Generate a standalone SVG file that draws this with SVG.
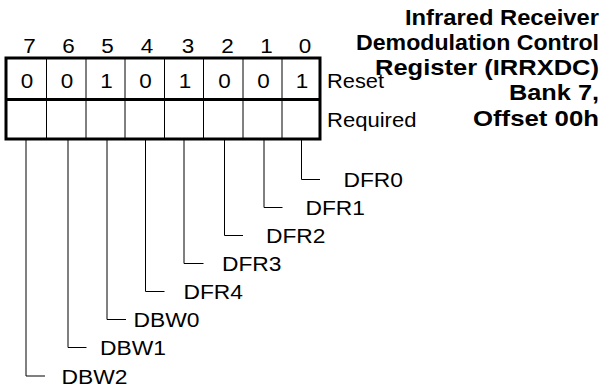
<svg xmlns="http://www.w3.org/2000/svg" width="603" height="389" viewBox="0 0 603 389">
<style>
.t{font-family:"Liberation Sans",Arial,sans-serif;font-size:20.5px;fill:#000}
.d{font-family:"Liberation Sans",Arial,sans-serif;font-size:20.5px;fill:#000;text-anchor:middle}
.b{font-family:"Liberation Sans",Arial,sans-serif;font-size:21.5px;font-weight:bold;fill:#000;text-anchor:end}
.thin{stroke:#000;stroke-width:1;fill:none}
.thick{stroke:#000;stroke-width:3;fill:none}
.lead{stroke:#000;stroke-width:1;fill:none}
</style>
<g id="title">
<text class="b" x="599" y="25" textLength="194" lengthAdjust="spacingAndGlyphs">Infrared Receiver</text>
<text class="b" x="599" y="50" textLength="243" lengthAdjust="spacingAndGlyphs">Demodulation Control</text>
<text class="b" x="599" y="75" textLength="224" lengthAdjust="spacingAndGlyphs">Register (IRRXDC)</text>
<text class="b" x="599" y="100" textLength="90" lengthAdjust="spacingAndGlyphs">Bank 7,</text>
<text class="b" x="599" y="126" textLength="126" lengthAdjust="spacingAndGlyphs">Offset 00h</text>
</g>
<g id="register">
<g id="bit-numbers">
<text class="d" x="29.5" y="53" textLength="12.5" lengthAdjust="spacingAndGlyphs">7</text>
<text class="d" x="68.5" y="53" textLength="12.5" lengthAdjust="spacingAndGlyphs">6</text>
<text class="d" x="107.5" y="53" textLength="12.5" lengthAdjust="spacingAndGlyphs">5</text>
<text class="d" x="147" y="53" textLength="12.5" lengthAdjust="spacingAndGlyphs">4</text>
<text class="d" x="188" y="53" textLength="12.5" lengthAdjust="spacingAndGlyphs">3</text>
<text class="d" x="227.5" y="53" textLength="12.5" lengthAdjust="spacingAndGlyphs">2</text>
<text class="d" x="266.5" y="53" textLength="12.5" lengthAdjust="spacingAndGlyphs">1</text>
<text class="d" x="305" y="53" textLength="12.5" lengthAdjust="spacingAndGlyphs">0</text>
</g>
<path class="thin" d="M46.5,58V139M86,58V139M125,58V139M164.5,58V139M203.5,58V139M243,58V139M282,58V139"/>
<rect class="thick" x="6" y="58" width="314" height="81"/>
<path class="thick" d="M6,99.5H320"/>
<g id="reset-values">
<text class="d" x="27" y="87.5" textLength="12.5" lengthAdjust="spacingAndGlyphs">0</text>
<text class="d" x="67" y="87.5" textLength="12.5" lengthAdjust="spacingAndGlyphs">0</text>
<text class="d" x="106.5" y="87.5" textLength="12.5" lengthAdjust="spacingAndGlyphs">1</text>
<text class="d" x="145.5" y="87.5" textLength="12.5" lengthAdjust="spacingAndGlyphs">0</text>
<text class="d" x="185" y="87.5" textLength="12.5" lengthAdjust="spacingAndGlyphs">1</text>
<text class="d" x="224.5" y="87.5" textLength="12.5" lengthAdjust="spacingAndGlyphs">0</text>
<text class="d" x="263.5" y="87.5" textLength="12.5" lengthAdjust="spacingAndGlyphs">0</text>
<text class="d" x="302" y="87.5" textLength="12.5" lengthAdjust="spacingAndGlyphs">1</text>
</g>
<text class="t" x="327" y="88" textLength="57" lengthAdjust="spacingAndGlyphs">Reset</text>
<text class="t" x="327" y="127" textLength="89.5" lengthAdjust="spacingAndGlyphs">Required</text>
</g>
<g id="connectors">
<path class="lead" d="M301.5,140V179.5H320"/>
<path class="lead" d="M264,140V207.5H282.5"/>
<path class="lead" d="M224.5,140V235.5H243"/>
<path class="lead" d="M184,140V263.5H203.5"/>
<path class="lead" d="M145.5,140V291.5H164.5"/>
<path class="lead" d="M107,140V319.5H126"/>
<path class="lead" d="M68,140V347.5H86.5"/>
<path class="lead" d="M26,140V376H45"/>
</g>
<g id="field-DFR0"><text class="t" x="343.5" y="187" textLength="59.5" lengthAdjust="spacingAndGlyphs">DFR0</text></g>
<g id="field-DFR1"><text class="t" x="305.5" y="215" textLength="59.5" lengthAdjust="spacingAndGlyphs">DFR1</text></g>
<g id="field-DFR2"><text class="t" x="266" y="243" textLength="59.5" lengthAdjust="spacingAndGlyphs">DFR2</text></g>
<g id="field-DFR3"><text class="t" x="222" y="271" textLength="59.5" lengthAdjust="spacingAndGlyphs">DFR3</text></g>
<g id="field-DFR4"><text class="t" x="183.5" y="299" textLength="59.5" lengthAdjust="spacingAndGlyphs">DFR4</text></g>
<g id="field-DBW0"><text class="t" x="133.5" y="327" textLength="66" lengthAdjust="spacingAndGlyphs">DBW0</text></g>
<g id="field-DBW1"><text class="t" x="100" y="355" textLength="66" lengthAdjust="spacingAndGlyphs">DBW1</text></g>
<g id="field-DBW2"><text class="t" x="61.5" y="384" textLength="66" lengthAdjust="spacingAndGlyphs">DBW2</text></g>
</svg>
